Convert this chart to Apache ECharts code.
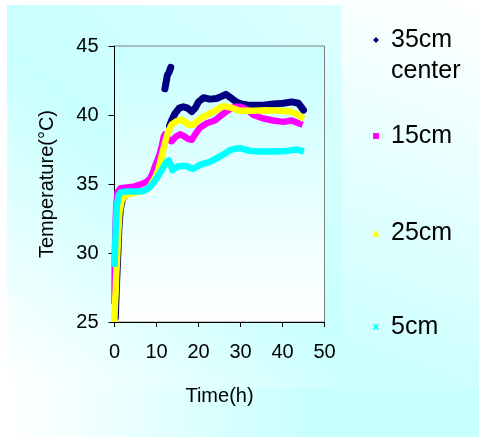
<!DOCTYPE html>
<html>
<head>
<meta charset="utf-8">
<title>Temperature vs Time</title>
<script src="https://cdn.jsdelivr.net/npm/echarts@6/dist/echarts.min.js"></script>
<style>
  html, body { margin: 0; padding: 0; background: #ffffff; }
  #chart { width: 479px; height: 439px; }
</style>
</head>
<body>
<div id="chart"></div>
<script>
// Axis ticks
const timeTicks = [0, 10, 20, 30, 40, 50];
const tempTicks = [25, 30, 35, 40, 45];

// Series names (legend order)
const seriesNames = ['35cm center', '15cm', '25cm', '5cm'];

// 35cm center (null = break in the record)
const time35 = [0.2, 0.3, 0.45, 0.6, 0.8, 1.05, 1.4, 1.9, 2.6, 3.5, null,
  12.0, 12.3, 12.6, 13.0, 13.4, null,
  13.1, 13.6, 14.4, 15.4, 16.4, 17.4, 18.4, 19.2, 20.0, 21.2, 22.7, 24.3, 25.5, 26.5,
  27.9, 29.0, 30.2, 32.3, 35.4, 37.8, 40.2, 42.2, 43.8, 45.0];
const temp35 = [25.3, 26.3, 27.5, 28.6, 30.0, 31.8, 33.2, 33.9, 34.2, 34.35, null,
  41.9, 42.4, 42.9, 43.1, 43.45, null,
  39.2, 39.6, 40.1, 40.5, 40.6, 40.5, 40.25, 40.5, 40.95, 41.25, 41.15, 41.2, 41.35, 41.5,
  41.2, 40.95, 40.8, 40.7, 40.7, 40.8, 40.85, 40.95, 40.85, 40.35];

// 15cm
const time15 = [0, 0.05, 0.2, 0.4, 0.7, 1.5, 3.0, 4.5, 6.0, 6.9, 7.8, 8.5, 9.1, 9.6, 10.2,
  10.8, 11.3, 11.7, 12.0, 12.4, 12.9, 13.6, 14.5, 15.6, 16.4, 17.6, 18.4, 19.2, 20.4,
  22.0, 23.9, 25.5, 27.1, 28.7, 30.0, 31.5, 33.1, 35.4, 37.8, 40.2, 42.2, 43.8, 44.8];
const temp15 = [26.3, 29.0, 31.5, 33.2, 34.4, 34.7, 34.75, 34.8, 34.95, 35.05, 35.2, 35.4, 35.8, 36.25, 36.7,
  37.2, 37.8, 38.4, 38.6, 38.4, 38.2, 38.1, 38.4, 38.6, 38.5, 38.25, 38.2, 38.6, 39.1,
  39.4, 39.6, 40.0, 40.35, 40.6, 40.6, 40.4, 40.0, 39.75, 39.6, 39.5, 39.6, 39.4, 39.3];

// 25cm
const time25 = [0, 0.05, 0.15, 0.3, 0.4, 0.6, 0.9, 1.2, 1.7, 2.5, 3.7, 6.1, 7.7, 8.5, 9.2,
  9.8, 10.4, 11.2, 12.0, 12.4, 12.8, 13.6, 14.8, 16.0, 17.0, 17.6, 18.8, 19.6, 20.4,
  22.0, 23.9, 25.9, 27.5, 29.9, 33.1, 36.2, 39.4, 41.8, 43.8, 45.0];
const temp25 = [25.0, 25.8, 26.5, 27.3, 28.3, 29.5, 31.5, 33.0, 33.8, 34.15, 34.3, 34.45, 34.6, 34.85, 35.2,
  35.55, 36.0, 37.0, 37.95, 38.4, 38.8, 39.3, 39.55, 39.65, 39.45, 39.3, 39.3, 39.55, 39.75,
  40.0, 40.3, 40.65, 40.55, 40.3, 40.3, 40.35, 40.3, 40.25, 40.0, 39.7];

// 5cm
const time5 = [0, 0.15, 0.35, 0.6, 1.0, 1.5, 3.0, 5.0, 6.9, 7.8, 8.5, 9.3, 10.0, 10.6, 11.2,
  11.8, 12.4, 12.9, 13.4, 13.8, 14.8, 16.0, 17.2, 18.0, 18.8, 19.6, 20.4, 21.5, 22.7,
  24.0, 25.1, 26.3, 27.5, 28.7, 29.9, 31.0, 32.3, 34.6, 37.8, 41.0, 43.4, 45.1];
const temp5 = [29.0, 30.5, 32.3, 33.5, 34.2, 34.4, 34.45, 34.45, 34.5, 34.65, 34.8, 35.1, 35.4, 35.7, 36.0,
  36.3, 36.6, 36.7, 36.4, 36.0, 36.25, 36.3, 36.3, 36.15, 36.1, 36.25, 36.4, 36.5, 36.6,
  36.8, 37.0, 37.2, 37.45, 37.55, 37.6, 37.5, 37.4, 37.35, 37.35, 37.4, 37.5, 37.35];

const pairs = (xs, ys) => xs.map((x, i) => [x, ys[i]]);

const FONT = "'Liberation Sans', Arial, sans-serif";
const CYAN = '#C8FFFF';
const LG = echarts.graphic.LinearGradient;

// Small legend markers
const ICONS = {
  diamond: 'path://M5,0L10,5L5,10L0,5Z',
  square: 'path://M0,0H10V10H0Z',
  triangle: 'path://M5,0L10,10H0Z',
  cross: 'path://M0,2L2,0L5,3L8,0L10,2L7,5L10,8L8,10L5,7L2,10L0,8L3,5Z'
};

const seriesStyles = [
  { color: '#000080', cap: 'round', icon: ICONS.diamond, size: 6, width: 7 },
  { color: '#FF00FF', cap: 'butt', icon: ICONS.square, size: 6, width: 6.5 },
  { color: '#FFFF00', cap: 'butt', icon: ICONS.triangle, size: 7, width: 6.5 },
  { color: '#00FFFF', cap: 'butt', icon: ICONS.cross, size: 6, width: 6.5 }
];
const seriesData = [
  pairs(time35, temp35),
  pairs(time15, temp15),
  pairs(time25, temp25),
  pairs(time5, temp5)
];

// One legend block per entry, stacked down the right-hand panel.
// The marker is centred in a 20px slot, so the block's left edge is the marker's edge.
const MARKER_X = 376;
const legendTops = [-6.5, 120.5, 217.5, 311.5];
const legends = seriesNames.map((name, i) => ({
  data: [name],
  left: MARKER_X - seriesStyles[i].size / 2,
  top: legendTops[i],
  padding: 0,
  orient: 'vertical',
  selectedMode: false,
  itemWidth: 20,
  itemHeight: seriesStyles[i].size,
  icon: seriesStyles[i].icon,
  itemStyle: { borderWidth: 0 },
  // two-line label: a blank first row keeps "35cm" level with its marker
  formatter: n => (n.indexOf(' ') > 0 ? '\n' + n.replace(' ', '\n') : n),
  textStyle: {
    fontFamily: FONT,
    fontSize: 25,
    color: '#000',
    lineHeight: 31
  }
}));

const chart = echarts.init(document.getElementById('chart'), null, { renderer: 'canvas' });

chart.setOption({
  animation: false,
  backgroundColor: '#ffffff',
  graphic: [
    {
      type: 'rect', z: -100, silent: true,
      shape: { x: 7, y: 5, width: 335, height: 383 },
      style: { fill: new LG(0, 1, 1, 0, [
        { offset: 0, color: '#FFFFFF' },
        { offset: 0.5, color: CYAN },
        { offset: 1, color: '#DCFFFF' }
      ]) }
    },
    {
      type: 'rect', z: -100, silent: true,
      shape: { x: 342, y: 0, width: 137, height: 388 },
      style: { fill: new LG(0, 1, 1, 0, [
        { offset: 0, color: CYAN },
        { offset: 1, color: '#FFFFFF' }
      ]) }
    },
    {
      type: 'rect', z: -100, silent: true,
      shape: { x: 7, y: 388, width: 472, height: 49 },
      style: { fill: new LG(0, 0, 1, 0, [
        { offset: 0, color: '#FFFFFF' },
        { offset: 0.65, color: CYAN },
        { offset: 1, color: CYAN }
      ]) }
    }
  ],
  grid: {
    left: 114.5,
    top: 46,
    right: 154.5,
    bottom: 117,
    containLabel: false,
    show: true,
    borderColor: '#808080',
    borderWidth: 1,
    backgroundColor: new LG(0, 0, 0, 1, [
      { offset: 0, color: '#C8FFFF' },
      { offset: 1, color: '#FFFFFF' }
    ])
  },
  xAxis: {
    type: 'value',
    min: timeTicks[0],
    max: timeTicks[timeTicks.length - 1],
    interval: timeTicks[1] - timeTicks[0],
    name: 'Time(h)',
    nameLocation: 'middle',
    nameGap: 64,
    nameTextStyle: { fontFamily: FONT, fontSize: 20, color: '#000' },
    axisLine: { show: true, onZero: false, lineStyle: { color: '#000', width: 1 } },
    axisTick: { show: true, inside: false, length: 5, lineStyle: { color: '#000' } },
    axisLabel: { margin: 20, fontFamily: FONT, fontSize: 20, color: '#000' },
    splitLine: { show: false }
  },
  yAxis: {
    type: 'value',
    min: tempTicks[0],
    max: tempTicks[tempTicks.length - 1],
    interval: tempTicks[1] - tempTicks[0],
    name: 'Temperature(°C)',
    nameLocation: 'middle',
    nameGap: 57,
    nameTextStyle: { fontFamily: FONT, fontSize: 20, color: '#000' },
    axisLine: { show: true, onZero: false, lineStyle: { color: '#000', width: 1 } },
    axisTick: { show: true, inside: false, length: 6, lineStyle: { color: '#000' } },
    axisLabel: { margin: 16, fontFamily: FONT, fontSize: 20, color: '#000' },
    splitLine: { show: false }
  },
  legend: legends,
  series: seriesNames.map((name, i) => ({
    name,
    type: 'line',
    data: seriesData[i],
    color: seriesStyles[i].color,
    symbol: 'none',
    showSymbol: false,
    connectNulls: false,
    clip: false,
    lineStyle: {
      color: seriesStyles[i].color,
      width: seriesStyles[i].width,
      cap: seriesStyles[i].cap,
      join: 'round'
    },
    emphasis: { disabled: true },
    silent: true,
    z: 2 + i
  }))
});
</script>
</body>
</html>
